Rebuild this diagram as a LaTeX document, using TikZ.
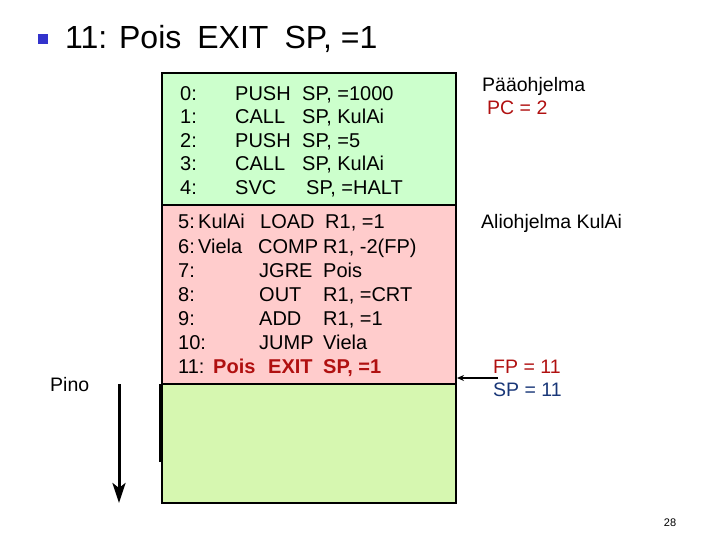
\documentclass[tikz,border=0pt]{standalone}
\usepackage{fontspec}
\setmainfont{Liberation Sans}
\usetikzlibrary{arrows.meta}
\definecolor{topgreen}{RGB}{204,255,204}
\definecolor{lowgreen}{RGB}{214,247,176}
\definecolor{pinkfill}{RGB}{255,204,204}
\definecolor{bulletblue}{RGB}{51,51,204}
\definecolor{darkred}{RGB}{176,16,16}
\definecolor{navy}{RGB}{25,55,120}
\tikzset{
  memo/.style={draw=black, line width=2pt, minimum width=294pt, inner sep=0pt},
  code/.style={anchor=base west, inner sep=0pt, font=\fontsize{20}{22}\selectfont},
  hot/.style={code, text=darkred, font=\fontsize{20}{22}\selectfont\bfseries},
  label/.style={anchor=base west, inner sep=0pt, font=\fontsize{19.5}{22}\selectfont},
}
\begin{document}
\begin{tikzpicture}[x=1pt,y=-1pt]
\useasboundingbox (0,0) rectangle (720,540);
% title
\node[fill=bulletblue, minimum size=10pt, inner sep=0pt] (bul) at (43,39) {};
\node[anchor=base west, inner sep=0pt, font=\fontsize{32}{36}\selectfont] (title) at (65,49) {11: Pois\hspace{0.5em}EXIT\hspace{0.5em}SP, =1};
% boxes
\node[memo, fill=topgreen, minimum height=132pt] (main) at (309,139) {};
\node[memo, fill=pinkfill, minimum height=179pt] (sub) at (309,294.5) {};
\node[memo, fill=lowgreen, minimum height=119pt] (stack) at (309,443.5) {};
\draw[line width=2.5pt] (160.5,384) -- (160.5,462);
% main program
\node[code] (a0) at (180,101) {0:};  \node[code] (b0) at (235,101) {PUSH}; \node[code] (c0) at (302,101) {SP, =1000};
\node[code] (a1) at (180,124) {1:};  \node[code] (b1) at (235,124) {CALL}; \node[code] (c1) at (302,124) {SP, KulAi};
\node[code] (a2) at (180,148) {2:};  \node[code] (b2) at (235,148) {PUSH}; \node[code] (c2) at (302,148) {SP, =5};
\node[code] (a3) at (180,171) {3:};  \node[code] (b3) at (235,171) {CALL}; \node[code] (c3) at (302,171) {SP, KulAi};
\node[code] (a4) at (180,195) {4:};  \node[code] (b4) at (235,195) {SVC};  \node[code] (c4) at (306,195) {SP, =HALT};
% subroutine
\node[code] (a5) at (178,229) {5:}; \node[code] (l5) at (198,229) {KulAi}; \node[code] (b5) at (260,229) {LOAD}; \node[code] (c5) at (325,229) {R1, =1};
\node[code] (a6) at (178,253) {6:}; \node[code] (l6) at (198,253) {Viela}; \node[code] (b6) at (258,253) {COMP}; \node[code] (c6) at (323,253) {R1, -2(FP)};
\node[code] (a7) at (178,277) {7:}; \node[code] (b7) at (259,277) {JGRE}; \node[code] (c7) at (323,277) {Pois};
\node[code] (a8) at (178,301) {8:}; \node[code] (b8) at (259,301) {OUT};  \node[code] (c8) at (323,301) {R1, =CRT};
\node[code] (a9) at (178,325) {9:}; \node[code] (b9) at (259,325) {ADD};  \node[code] (c9) at (323,325) {R1, =1};
\node[code] (a10) at (178,349) {10:}; \node[code] (b10) at (259,349) {JUMP}; \node[code] (c10) at (323,349) {Viela};
\node[code] (a11) at (178,373) {11:}; \node[hot] (l11) at (213,373) {Pois}; \node[hot] (b11) at (268,373) {EXIT}; \node[hot] (c11) at (323,373) {SP, =1};
% right labels
\node[label] (pname) at (482,92) {Pääohjelma};
\node[label, text=darkred] (pc) at (487,115) {PC = 2};
\node[label] (sname) at (481,229) {Aliohjelma KulAi};
\node[label, text=darkred] (fp) at (493,373) {FP = 11};
\node[label, text=navy] (sp) at (493,396) {SP = 11};
\coordinate (ptr) at (498,378);
\draw[line width=1.5pt, -{Stealth[length=7pt,width=6pt]}] (ptr) -- (ptr -| sub.east);
% stack direction
\node[label] (pino) at (50,391) {Pino};
\coordinate (ptop) at (119,384);
\coordinate (pbot) at (119,503);
\draw[line width=3pt, -{Stealth[length=20pt,width=13pt,inset=5pt]}] (ptop) -- (pbot);
% page number
\node[inner sep=0pt, font=\fontsize{11}{12}\selectfont] (page) at (670,523) {28};
\end{tikzpicture}
\end{document}
